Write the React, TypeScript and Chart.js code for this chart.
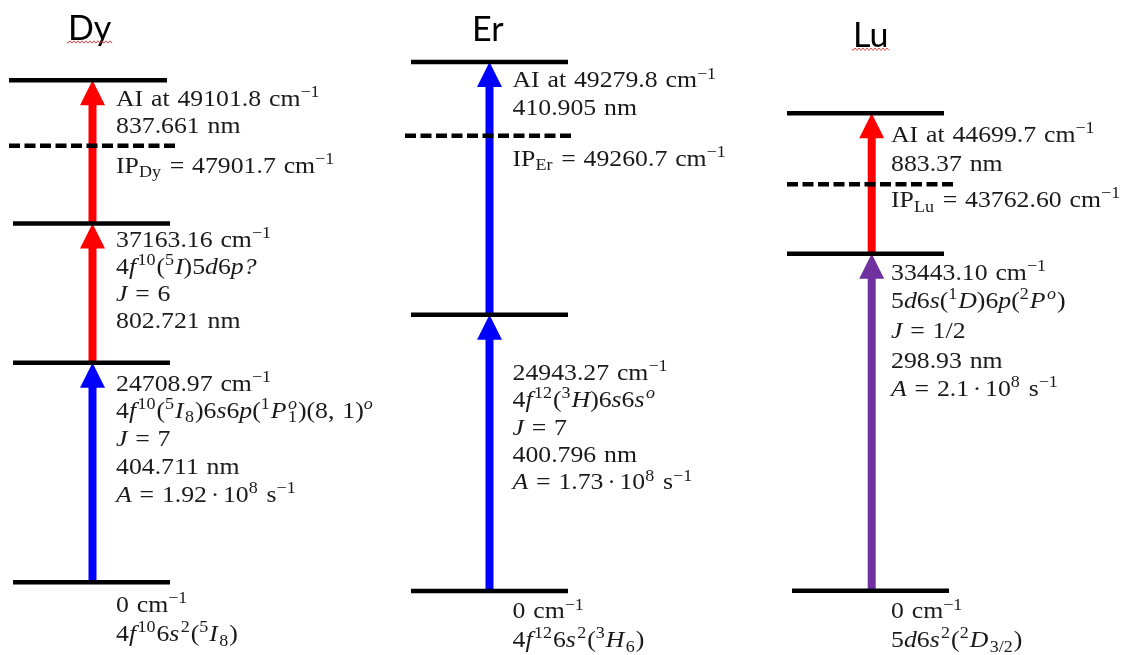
import { useEffect, useRef } from 'react';
import { Chart, registerables } from 'chart.js';

Chart.register(...registerables);

const W = 1134;
const H = 655;

// ---------- values ----------
const ELEMENTS = ['Dy', 'Er', 'Lu'];

// Dysprosium: ground -> 24708.97 -> 37163.16 -> autoionizing 49101.8 (cm^-1)
const DY_ENERGY = [0, 24708.97, 37163.16, 49101.8];
const DY_DECIMALS = [0, 2, 2, 1];
const DY_IP = 47901.7;
const DY_IP_DECIMALS = 1;
const DY_WAVELENGTH = [404.711, 802.721, 837.661];
const DY_J = ['7', '6'];
const DY_A = [1.92];
const DY_CONFIG = [
  '4*f*^{10}6*s*^{2}(^{5}*I*_{8})',
  '4*f*^{10}(^{5}*I*_{8})6*s*6*p*(^{1}*P*^{*o*}_{1})(8, 1)^{*o*}',
  '4*f*^{10}(^{5}*I*)5*d*6*p?*',
];

// Erbium: ground -> 24943.27 -> autoionizing 49279.8
const ER_ENERGY = [0, 24943.27, 49279.8];
const ER_DECIMALS = [0, 2, 1];
const ER_IP = 49260.7;
const ER_IP_DECIMALS = 1;
const ER_WAVELENGTH = [400.796, 410.905];
const ER_J = ['7'];
const ER_A = [1.73];
const ER_CONFIG = ['4*f*^{12}6*s*^{2}(^{3}*H*_{6})', '4*f*^{12}(^{3}*H*)6*s*6*s*^{*o*}'];

// Lutetium: ground -> 33443.10 -> autoionizing 44699.7
const LU_ENERGY = [0, 33443.1, 44699.7];
const LU_DECIMALS = [0, 2, 1];
const LU_IP = 43762.6;
const LU_IP_DECIMALS = 2;
const LU_WAVELENGTH = [298.93, 883.37];
const LU_J = ['1/2'];
const LU_A = [2.1];
const LU_CONFIG = ['5*d*6*s*^{2}(^{2}*D*_{3/2})', '5*d*6*s*(^{1}*D*)6*p*(^{2}*P*^{*o*})'];

// ---------- schematic layout (drawing units, y grows downward) ----------
type Column = {
  element: string;
  energy: number[];
  decimals: number[];
  ip: number;
  ipDecimals: number;
  wavelength: number[];
  J: string[];
  A: number[];
  config: string[];
  arrowColors: string[];
  // layout
  titleX: number;
  titleY: number;
  squiggle: boolean;
  rungY: number[];
  rungSpan: [number, number][];
  ipY: number;
  ipSpan: [number, number];
  arrowX: number;
  textX: number;
  baselines: number[][];
  ipBaseline: number;
};

const RED = '#ff0000';
const BLUE = '#0000ff';
const PURPLE = '#7030a0';

const COLUMNS: Column[] = [
  {
    element: ELEMENTS[0],
    energy: DY_ENERGY,
    decimals: DY_DECIMALS,
    ip: DY_IP,
    ipDecimals: DY_IP_DECIMALS,
    wavelength: DY_WAVELENGTH,
    J: DY_J,
    A: DY_A,
    config: DY_CONFIG,
    arrowColors: [BLUE, RED, RED],
    titleX: 68,
    titleY: 39.5,
    squiggle: true,
    rungY: [582.3, 362.7, 223.6, 80.3],
    rungSpan: [[13, 170], [13, 170], [13, 170], [9, 167]],
    ipY: 145.7,
    ipSpan: [9, 176],
    arrowX: 92.5,
    textX: 116,
    baselines: [
      [611.7, 641],
      [390.5, 417.5, 446, 474, 501.5],
      [247, 273.5, 301, 328.3],
      [105.5, 133],
    ],
    ipBaseline: 172.5,
  },
  {
    element: ELEMENTS[1],
    energy: ER_ENERGY,
    decimals: ER_DECIMALS,
    ip: ER_IP,
    ipDecimals: ER_IP_DECIMALS,
    wavelength: ER_WAVELENGTH,
    J: ER_J,
    A: ER_A,
    config: ER_CONFIG,
    arrowColors: [BLUE, BLUE],
    titleX: 472,
    titleY: 40.5,
    squiggle: false,
    rungY: [591, 314.7, 62],
    rungSpan: [[411, 568], [411, 568], [411, 568]],
    ipY: 135.7,
    ipSpan: [405, 573],
    arrowX: 489.5,
    textX: 512.5,
    baselines: [
      [618.3, 646.7],
      [380, 407, 435, 462.3, 489.3],
      [87.3, 115],
    ],
    ipBaseline: 165.5,
  },
  {
    element: ELEMENTS[2],
    energy: LU_ENERGY,
    decimals: LU_DECIMALS,
    ip: LU_IP,
    ipDecimals: LU_IP_DECIMALS,
    wavelength: LU_WAVELENGTH,
    J: LU_J,
    A: LU_A,
    config: LU_CONFIG,
    arrowColors: [PURPLE, RED],
    titleX: 853,
    titleY: 46.7,
    squiggle: true,
    rungY: [590.7, 253.7, 113.3],
    rungSpan: [[792, 949], [787, 944], [787, 944]],
    ipY: 184.3,
    ipSpan: [787, 953],
    arrowX: 871.7,
    textX: 891,
    baselines: [
      [618.3, 647],
      [280, 308, 338, 368, 396],
      [141.7, 170.7],
    ],
    ipBaseline: 206.7,
  },
];

// ---------- label text ----------
const fmt = (v: number, d: number) => v.toFixed(d);

function levelLines(c: Column, i: number): string[] {
  const last = c.energy.length - 1;
  const e = `${fmt(c.energy[i], c.decimals[i])} cm^{−1}`;
  if (i === 0) return [e, c.config[0]];
  const nm = `${c.wavelength[i - 1]} nm`;
  if (i === last) return [`AI at ${e}`, nm];
  const lines = [e, c.config[i], `*J* = ${c.J[i - 1]}`, nm];
  if (c.A[i - 1] !== undefined) lines.push(`*A* = ${c.A[i - 1]}~·~10^{8} s^{−1}`);
  return lines;
}

// ---------- tiny rich-text renderer (italic, super/subscripts) ----------
type Run = { text: string; italic: boolean; mode: 0 | 1 | -1; stack: boolean };

function parseRich(src: string): Run[] {
  const runs: Run[] = [];
  let italic = false;
  let buf = '';
  let i = 0;
  const flush = () => {
    if (buf) runs.push({ text: buf, italic, mode: 0, stack: false });
    buf = '';
  };
  while (i < src.length) {
    const ch = src[i];
    if (ch === '*') {
      flush();
      italic = !italic;
      i++;
      continue;
    }
    if ((ch === '^' || ch === '_') && src[i + 1] === '{') {
      flush();
      const end = src.indexOf('}', i);
      const inner = src.slice(i + 2, end);
      const mode: 1 | -1 = ch === '^' ? 1 : -1;
      const prev = runs[runs.length - 1];
      const stack = mode === -1 && !!prev && prev.mode === 1 && src[i - 1] === '}';
      let it = false;
      let b = '';
      let first = true;
      for (const c of inner) {
        if (c === '*') {
          if (b) {
            runs.push({ text: b, italic: it, mode, stack: first && stack });
            first = false;
            b = '';
          }
          it = !it;
          continue;
        }
        b += c;
      }
      if (b) runs.push({ text: b, italic: it, mode, stack: first && stack });
      i = end + 1;
      continue;
    }
    buf += ch;
    i++;
  }
  flush();
  return runs;
}

const SERIF = '"Liberation Serif", "Times New Roman", serif';
const TEXT_SIZE = 23;
const TEXT_STRETCH = 1.12;
const SPACE_EM = 0.34;
const THIN_EM = 0.16;

function drawRich(ctx: CanvasRenderingContext2D, src: string, x: number, y: number) {
  const runs = parseRich(src);
  let cx = x;
  let supStart = x;
  let supEnd = x;
  let prevItalicBase = false;
  for (const r of runs) {
    const fs = r.mode === 0 ? TEXT_SIZE : TEXT_SIZE * 0.7;
    const shift = r.mode === 1 ? -TEXT_SIZE * 0.37 : r.mode === -1 ? TEXT_SIZE * 0.21 : 0;
    ctx.font = `${r.italic ? 'italic ' : ''}${fs}px ${SERIF}`;
    if (r.stack) cx = supStart;
    else if (r.mode !== 0 && prevItalicBase) cx += TEXT_SIZE * 0.06;
    const start = cx;
    for (const part of r.text.split(/([ ~])/)) {
      if (!part) continue;
      if (part === ' ') {
        cx += TEXT_SIZE * SPACE_EM;
        continue;
      }
      if (part === '~') {
        cx += TEXT_SIZE * THIN_EM;
        continue;
      }
      ctx.save();
      ctx.translate(cx, y + shift);
      ctx.scale(TEXT_STRETCH, 1);
      ctx.fillText(part, 0, 0);
      ctx.restore();
      cx += ctx.measureText(part).width * TEXT_STRETCH;
    }
    if (r.mode === 1) {
      supStart = start;
      supEnd = cx;
    }
    if (r.stack) cx = Math.max(cx, supEnd);
    if (r.mode !== 0) cx += 1;
    prevItalicBase = r.mode === 0 && r.italic;
  }
}

// ---------- plugins ----------
const SHAFT_W = 8;
const HEAD_W = 25;
const HEAD_L = 25;

const arrowPlugin = {
  id: 'transitionArrows',
  beforeDatasetsDraw(chart: Chart) {
    const { ctx } = chart;
    const xs = chart.scales.x;
    const ys = chart.scales.y;
    ctx.save();
    for (const c of COLUMNS) {
      const px = xs.getPixelForValue(c.arrowX);
      for (let k = 0; k < c.arrowColors.length; k++) {
        const from = ys.getPixelForValue(c.rungY[k]);
        const tip = ys.getPixelForValue(c.rungY[k + 1]);
        ctx.fillStyle = c.arrowColors[k];
        ctx.fillRect(px - SHAFT_W / 2, tip + HEAD_L - 1, SHAFT_W, from - tip - HEAD_L + 1);
        ctx.beginPath();
        ctx.moveTo(px, tip);
        ctx.lineTo(px + HEAD_W / 2, tip + HEAD_L);
        ctx.lineTo(px - HEAD_W / 2, tip + HEAD_L);
        ctx.closePath();
        ctx.fill();
      }
    }
    ctx.restore();
  },
};

const textPlugin = {
  id: 'levelLabels',
  afterDatasetsDraw(chart: Chart) {
    const { ctx } = chart;
    const xs = chart.scales.x;
    const ys = chart.scales.y;
    ctx.save();
    ctx.textBaseline = 'alphabetic';
    ctx.textAlign = 'left';
    for (const c of COLUMNS) {
      ctx.fillStyle = '#1a1a1a';
      const tx = xs.getPixelForValue(c.textX);
      for (let i = 0; i < c.energy.length; i++) {
        const lines = levelLines(c, i);
        lines.forEach((ln, j) => drawRich(ctx, ln, tx, ys.getPixelForValue(c.baselines[i][j])));
      }
      drawRich(
        ctx,
        `IP_{${c.element}} = ${fmt(c.ip, c.ipDecimals)} cm^{−1}`,
        tx,
        ys.getPixelForValue(c.ipBaseline),
      );

      // element heading
      const hx = xs.getPixelForValue(c.titleX);
      const hy = ys.getPixelForValue(c.titleY);
      ctx.font = '34px Lato, "Open Sans", sans-serif';
      ctx.fillStyle = '#000';
      ctx.fillText(c.element, hx, hy);
      const tw = ctx.measureText(c.element).width;
      if (c.squiggle) {
        ctx.save();
        ctx.strokeStyle = 'rgba(225,40,40,0.85)';
        ctx.lineWidth = 1;
        ctx.beginPath();
        for (let t = 0; t <= tw + 2; t += 1) {
          const wy = hy + 2.5 + Math.sin((t / 4) * Math.PI * 2) * 1.2;
          if (t === 0) ctx.moveTo(hx - 1 + t, wy);
          else ctx.lineTo(hx - 1 + t, wy);
        }
        ctx.stroke();
        ctx.restore();
      }
    }
    ctx.restore();
  },
};

// ---------- datasets: energy rungs and ionization thresholds ----------
function buildDatasets() {
  const ds: any[] = [];
  for (const c of COLUMNS) {
    c.rungY.forEach((y, i) => {
      const [x0, x1] = c.rungSpan[i];
      ds.push({
        label: `${c.element} ${c.energy[i]}`,
        data: [
          { x: x0, y },
          { x: x1, y },
        ],
        showLine: true,
        borderColor: '#000',
        borderWidth: 4.5,
        borderCapStyle: 'butt',
        pointRadius: 0,
        fill: false,
      });
    });
    ds.push({
      label: `IP ${c.element}`,
      data: [
        { x: c.ipSpan[0], y: c.ipY },
        { x: c.ipSpan[1], y: c.ipY },
      ],
      showLine: true,
      borderColor: '#000',
      borderWidth: 4.5,
      borderDash: [11, 4.5],
      borderCapStyle: 'butt',
      pointRadius: 0,
      fill: false,
    });
  }
  return ds;
}

export default function App() {
  const ref = useRef<HTMLCanvasElement>(null);
  useEffect(() => {
    const canvas = ref.current;
    if (!canvas) return;
    const chart = new Chart(canvas, {
      type: 'scatter',
      data: { datasets: buildDatasets() },
      options: {
        animation: false,
        responsive: false,
        devicePixelRatio: 1,
        events: [],
        layout: { padding: 0 },
        scales: {
          x: { type: 'linear', min: 0, max: W, display: false },
          y: { type: 'linear', min: 0, max: H, reverse: true, display: false },
        },
        plugins: { legend: { display: false }, tooltip: { enabled: false } },
      },
      plugins: [arrowPlugin, textPlugin],
    });
    return () => chart.destroy();
  }, []);
  return (
    <div style={{ position: 'absolute', left: 0, top: 0, width: W, height: H, background: '#fff' }}>
      <canvas ref={ref} width={W} height={H} style={{ display: 'block' }} />
    </div>
  );
}
